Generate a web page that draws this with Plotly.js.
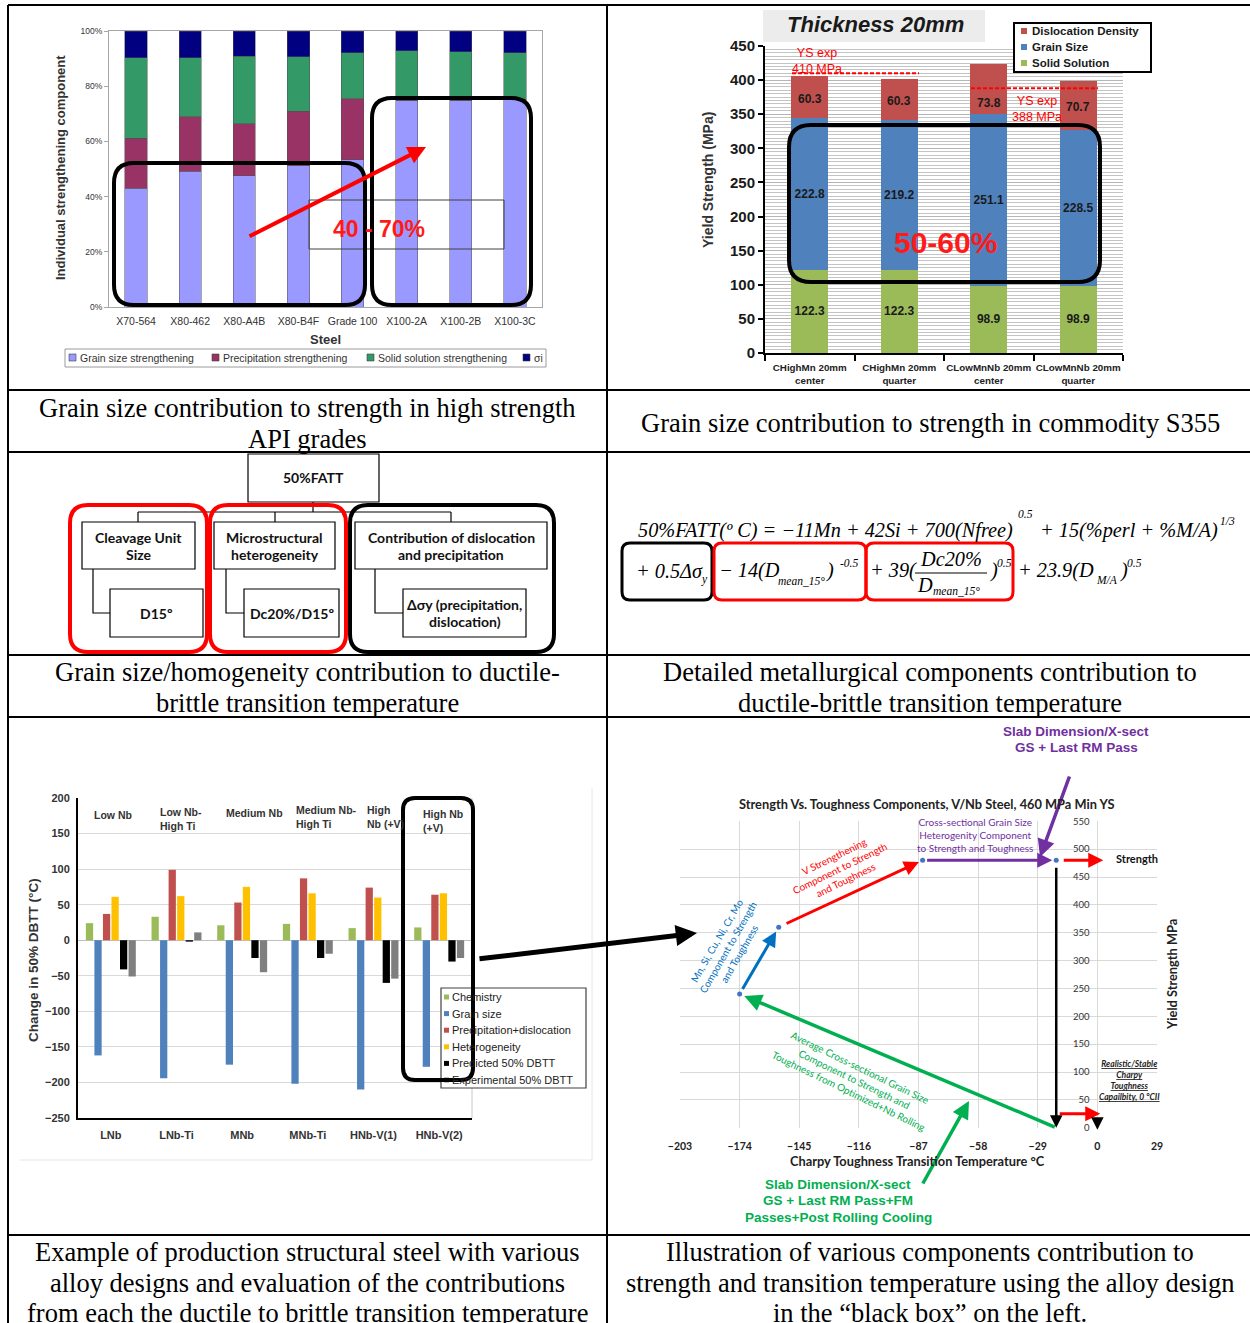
<!DOCTYPE html>
<html>
<head>
<meta charset="utf-8">
<title>Grain size contributions to strength and toughness</title>
<script src="https://cdn.plot.ly/plotly-3.0.1.min.js"></script>
<style>
  html, body { margin: 0; padding: 0; background: #fff; }
  #page { position: relative; width: 1250px; height: 1323px; overflow: hidden; background: #fff; }
  .layer { position: absolute; left: 0; top: 0; width: 1250px; height: 1323px; }
</style>
</head>
<body>
<div id="page">
  <div id="apiChart" class="layer"></div>
  <div id="s355Chart" class="layer"></div>
  <div id="dbttChart" class="layer"></div>
  <div id="toughChart" class="layer"></div>
  <div id="frame" class="layer"></div>
</div>
<script>
// ---------- API grades: share of each strengthening mechanism (%) ----------
const apiSteels = ['X70-564', 'X80-462', 'X80-A4B', 'X80-B4F', 'Grade 100', 'X100-2A', 'X100-2B', 'X100-3C'];
const apiGrainSize = [43.1, 49.2, 47.5, 51.1, 53.4, 74.9, 74.9, 75.2];
const apiPrecipitation = [18.1, 19.8, 18.9, 19.8, 22.1, 0, 0, 0];
const apiSolidSolution = [29.1, 21.3, 24.5, 19.7, 16.6, 17.9, 17.5, 16.9];
const apiSigmaI = [9.7, 9.7, 9.1, 9.4, 7.9, 7.2, 7.6, 7.9];
const apiSeriesNames = ['Grain size strengthening', 'Precipitation strengthening', 'Solid solution strengthening', 'σi'];

// ---------- S355, 20 mm plate: yield strength build-up (MPa) ----------
const s355Samples = ['CHighMn 20mm<br>center', 'CHighMn 20mm<br>quarter', 'CLowMnNb 20mm<br>center', 'CLowMnNb 20mm<br>quarter'];
const s355SolidSolution = [122.3, 122.3, 98.9, 98.9];
const s355GrainSize = [222.8, 219.2, 251.1, 228.5];
const s355Dislocation = [60.3, 60.3, 73.8, 70.7];
const s355SeriesNames = ['Dislocation Density', 'Grain Size', 'Solid Solution'];
const s355YsExp = [410, 388];

// ---------- Change in 50% DBTT by alloy design (°C) ----------
const dbttSteels = ['LNb', 'LNb-Ti', 'MNb', 'MNb-Ti', 'HNb-V(1)', 'HNb-V(2)'];
const dbttFamilies = ['Low Nb', 'Low Nb-<br>High Ti', 'Medium Nb', 'Medium Nb-<br>High Ti', 'High<br>Nb (+V)', 'High Nb<br>(+V)'];
const dbttChemistry = [24, 33, 21, 23, 17, 18];
const dbttGrainSize = [-162, -194, -175, -202, -210, -178];
const dbttPrecipDisloc = [37, 99, 53, 87, 74, 64];
const dbttHeterogeneity = [61, 62, 75, 66, 60, 66];
const dbttPredicted = [-41, -2, -25, -25, -60, -30];
const dbttExperimental = [-51, 11, -45, -19, -54, -25];
const dbttSeriesNames = ['Chemistry', 'Grain size', 'Precipitation+dislocation', 'Heterogeneity', 'Predicted 50% DBTT', 'Experimental 50% DBTT'];

// ---------- V/Nb steel, 460 MPa min YS: strength vs. toughness path ----------
const pathTemp = [-174, -155, -85, -20, -20];   // Charpy transition temperature, °C
const pathYS = [240, 360, 480, 480, 0];          // yield strength, MPa
const tempTicks = [-203, -174, -145, -116, -87, -58, -29, 0, 29];

// ---------- Flowchart and captions ----------
const fattRoot = '50%FATT';
const flowGroups = ['Cleavage Unit<br>Size', 'Microstructural<br>heterogeneity', 'Contribution of dislocation<br>and precipitation'];
const flowMeasures = ['D15º', 'Dc20%/D15º', 'Δσy (precipitation,<br>dislocation)'];
const captions = [
  'Grain size contribution to strength in high strength<br>API grades',
  'Grain size contribution to strength in commodity S355',
  'Grain size/homogeneity contribution to ductile-<br>brittle transition temperature',
  'Detailed metallurgical components contribution to<br>ductile-brittle transition temperature',
  'Example of production structural steel with various<br>alloy designs and evaluation of the contributions<br>from each the ductile to brittle transition temperature',
  'Illustration of various components contribution to<br>strength and transition temperature using the alloy design<br>in the “black box” on the left.'
];

// ================= helpers (page pixels -> paper fractions) =================
const W = 1250, H = 1323;
const fx = p => p / W;
const fy = p => 1 - p / H;
const SANS = 'Liberation Sans, Arial, sans-serif';
const SERIF = 'Liberation Serif, Times New Roman, serif';
const CAL = 'Lato, Open Sans, sans-serif';
const cfg = { staticPlot: true, displayModeBar: false };

function base(extra) {
  return Object.assign({
    width: W, height: H,
    margin: { l: 0, r: 0, t: 0, b: 0, pad: 0 },
    paper_bgcolor: 'rgba(0,0,0,0)', plot_bgcolor: 'rgba(0,0,0,0)',
    showlegend: false, hovermode: false
  }, extra);
}
function note(x, y, text, o) {
  return Object.assign({ xref: 'paper', yref: 'paper', x: fx(x), y: fy(y), text: text,
    showarrow: false, xanchor: 'center', yanchor: 'middle' }, o || {});
}
// one annotation per line so that the line pitch can be set freely
function stackLines(x, yFirst, pitch, text, o) {
  return text.split('<br>').map((t, i) => note(x, yFirst + i * pitch, t, o));
}
function rectShape(x0, y0, x1, y1, line, fill) {
  return { type: 'rect', xref: 'paper', yref: 'paper', x0: fx(x0), x1: fx(x1), y0: fy(y0), y1: fy(y1),
    line: line, fillcolor: fill || 'rgba(0,0,0,0)', layer: 'above' };
}
function lineShape(x0, y0, x1, y1, line) {
  return { type: 'line', xref: 'paper', yref: 'paper', x0: fx(x0), x1: fx(x1), y0: fy(y0), y1: fy(y1),
    line: line, layer: 'above' };
}
function polyShape(pts, line) {
  const d = pts.map((p, i) => (i ? 'L' : 'M') + fx(p[0]).toFixed(5) + ',' + fy(p[1]).toFixed(5)).join(' ');
  return { type: 'path', xref: 'paper', yref: 'paper', path: d, line: line, fillcolor: 'rgba(0,0,0,0)', layer: 'above' };
}
function roundRect(x0, y0, x1, y1, r, line) {
  const P = (x, y) => fx(x).toFixed(5) + ',' + fy(y).toFixed(5);
  const d = 'M' + P(x0 + r, y0) + ' L' + P(x1 - r, y0) + ' Q' + P(x1, y0) + ' ' + P(x1, y0 + r) +
    ' L' + P(x1, y1 - r) + ' Q' + P(x1, y1) + ' ' + P(x1 - r, y1) +
    ' L' + P(x0 + r, y1) + ' Q' + P(x0, y1) + ' ' + P(x0, y1 - r) +
    ' L' + P(x0, y0 + r) + ' Q' + P(x0, y0) + ' ' + P(x0 + r, y0) + ' Z';
  return { type: 'path', xref: 'paper', yref: 'paper', path: d, line: line, fillcolor: 'rgba(0,0,0,0)', layer: 'above' };
}
function pxArrow(tx, ty, hx, hy, color, width, size) {
  return { xref: 'paper', yref: 'paper', x: fx(hx), y: fy(hy), ax: tx - hx, ay: ty - hy,
    axref: 'pixel', ayref: 'pixel', text: '', showarrow: true, arrowhead: 2,
    arrowsize: size || 1, arrowwidth: width, arrowcolor: color };
}

// ================= API grades stacked percentage chart =================
(function () {
  const colors = ['#9999ff', '#993366', '#339966', '#000080'];
  const values = [apiGrainSize, apiPrecipitation, apiSolidSolution, apiSigmaI];
  const traces = values.map((v, i) => ({
    type: 'bar', x: apiSteels, y: v, name: apiSeriesNames[i],
    marker: { color: colors[i], line: { color: '#505050', width: 0.5 } }
  }));
  const shapes = [];
  const notes = [];
  // legend strip under the chart
  shapes.push(rectShape(65, 349, 546, 367, { color: '#9a9a9a', width: 1 }, '#fff'));
  const swatchX = [69, 212, 367, 523];
  apiSeriesNames.forEach((n, i) => {
    shapes.push(rectShape(swatchX[i], 354, swatchX[i] + 7, 361, { color: '#404040', width: 0.6 }, colors[i]));
    notes.push(note(swatchX[i] + 8.5, 358, n, { xanchor: 'left', font: { family: SANS, size: 10.5, color: '#333' } }));
  });
  // highlight frames
  shapes.push(rectShape(309, 200, 504, 249, { color: '#404040', width: 1 }));
  shapes.push(roundRect(114, 163, 365, 305, 20, { color: '#000', width: 4 }));
  shapes.push(roundRect(372, 98, 531, 305, 20, { color: '#000', width: 4 }));
  notes.push(note(379, 229, '<b>40 - 70%</b>', { font: { family: SANS, size: 23, color: '#ff1a1a' } }));
  notes.push(pxArrow(248, 237, 426, 147, '#ff0000', 4, 0.9));
  notes.push(note(60, 168, '<b>Individual strengthening component</b>', { textangle: -90, font: { family: SANS, size: 13, color: '#333' } }));
  notes.push(note(326, 339, '<b>Steel</b>', { font: { family: SANS, size: 13, color: '#333' } }));

  const layout = base({
    barmode: 'stack', bargap: 0.59,
    xaxis: { domain: [fx(109), fx(542)], showline: true, linecolor: '#a6a6a6', linewidth: 1, mirror: true,
      ticks: 'outside', ticklen: 4, tickcolor: 'rgba(0,0,0,0)', tickangle: 0,
      tickfont: { family: SANS, size: 10.5, color: '#333' } },
    yaxis: { domain: [fy(307), fy(31)], range: [0, 100], dtick: 20, ticksuffix: '%', showgrid: false, zeroline: false,
      showline: true, linecolor: '#a6a6a6', mirror: true, ticks: 'outside', ticklen: 4, tickcolor: '#a6a6a6',
      tickfont: { family: SANS, size: 8.5, color: '#333' } },
    shapes: shapes, annotations: notes
  });
  Plotly.newPlot('apiChart', traces, layout, cfg);
})();

// ================= S355 yield strength build-up =================
(function () {
  const colors = { dis: '#c0504d', grain: '#4f81bd', solid: '#9bbb59' };
  const lbl = { family: SANS, size: 12, color: '#1a1a1a', weight: 'bold' };
  const mk = (y, name, c, withText) => Object.assign({
    type: 'bar', x: s355Samples, y: y, name: name, marker: { color: c }
  }, withText ? { texttemplate: '%{y:.1f}', textposition: 'inside', insidetextanchor: 'middle', textangle: 0, textfont: lbl }
              : { textposition: 'none' });
  const traces = [
    mk(s355SolidSolution, s355SeriesNames[2], colors.solid, true),
    mk(s355GrainSize, s355SeriesNames[1], colors.grain, true),
    mk(s355Dislocation, s355SeriesNames[0], colors.dis, false)
  ];
  const red = '#ff0000';
  const shapes = [
    rectShape(763, 10, 985, 42, { width: 0 }, '#ececec'),
    { type: 'line', xref: 'paper', yref: 'y', x0: fx(792), x1: fx(919), y0: s355YsExp[0], y1: s355YsExp[0],
      line: { color: red, width: 2, dash: '4px,2px' }, layer: 'above' },
    { type: 'line', xref: 'paper', yref: 'y', x0: fx(971), x1: fx(1098), y0: s355YsExp[1], y1: s355YsExp[1],
      line: { color: red, width: 2, dash: '4px,2px' }, layer: 'above' },
    roundRect(789, 125, 1100, 282, 22, { color: '#000', width: 4 }),
    rectShape(1014, 23, 1151, 72, { color: '#000', width: 2 }, '#fff')
  ];
  // dislocation labels: centred in each top segment, the third one nudged below the 388 MPa line
  const labelNudge = [-2, -2, -14, -1];
  const notes = s355Dislocation.map((v, i) => ({
    xref: 'x', yref: 'y', x: s355Samples[i], y: s355SolidSolution[i] + s355GrainSize[i] + v / 2, yshift: labelNudge[i],
    text: v.toFixed(1), showarrow: false, xanchor: 'center', yanchor: 'middle', font: lbl
  }));
  notes.push(
    note(875, 25, '<b><i>Thickness 20mm</i></b>', { font: { family: SANS, size: 22, color: '#1a1a1a' } }),
    { xref: 'paper', yref: 'y', x: fx(817), y: s355YsExp[0], xanchor: 'center', yanchor: 'bottom', yshift: -5, showarrow: false,
      text: 'YS exp<br>' + s355YsExp[0] + ' MPa', font: { family: SANS, size: 12.5, color: red } },
    { xref: 'paper', yref: 'y', x: fx(1037), y: s355YsExp[1], xanchor: 'center', yanchor: 'top', yshift: -4, showarrow: false,
      text: 'YS exp<br>' + s355YsExp[1] + ' MPa', font: { family: SANS, size: 12.5, color: red } },
    note(945, 243, '<b>50-60%</b>', { font: { family: SANS, size: 30, color: '#ff1a1a' } }),
    note(708, 180, '<b>Yield Strength (MPa)</b>', { textangle: -90, font: { family: SANS, size: 14, color: '#333' } })
  );
  const legendColors = [colors.dis, colors.grain, colors.solid];
  s355SeriesNames.forEach((n, i) => {
    const cy = 31 + i * 16;
    shapes.push(rectShape(1021, cy - 3, 1027, cy + 3, { width: 0 }, legendColors[i]));
    notes.push(note(1030, cy, '<b>' + n + '</b>', { xanchor: 'left', font: { family: SANS, size: 11.5, color: '#1a1a1a' } }));
  });
  const layout = base({
    barmode: 'stack', bargap: 0.59, uniformtext: { mode: false },
    xaxis: { domain: [fx(765), fx(1123)], showline: true, linecolor: '#000', linewidth: 2, tickangle: 0,
      tickson: 'boundaries', ticks: 'outside', ticklen: 6, tickwidth: 2, tickcolor: '#000', ticklabelstandoff: 4,
      tickfont: { family: SANS, size: 9.8, color: '#222', weight: 'bold' } },
    yaxis: { domain: [fy(353), fy(46)], range: [0, 450], dtick: 50, showline: true, linecolor: '#000', linewidth: 2,
      ticks: 'outside', ticklen: 5, tickwidth: 2, tickcolor: '#000', zeroline: false,
      gridcolor: '#b5b5b5', gridwidth: 1,
      minor: { dtick: 5, showgrid: true, gridcolor: '#c4c4c4', gridwidth: 1 },
      tickfont: { family: SANS, size: 15, color: '#1a1a1a', weight: 'bold' } },
    shapes: shapes, annotations: notes
  });
  Plotly.newPlot('s355Chart', traces, layout, cfg);
})();

// ================= DBTT contributions by alloy design =================
(function () {
  const colors = ['#9bbb59', '#4f81bd', '#c0504d', '#ffc000', '#000000', '#7f7f7f'];
  const values = [dbttChemistry, dbttGrainSize, dbttPrecipDisloc, dbttHeterogeneity, dbttPredicted, dbttExperimental];
  const traces = values.map((v, i) => ({
    type: 'bar', x: dbttSteels, y: v, name: dbttSeriesNames[i], marker: { color: colors[i] }
  }));
  const familyPos = [[92, 815], [158, 819], [224, 813], [294, 817], [365, 817], [421, 821]];
  const notes = dbttFamilies.map((t, i) => note(familyPos[i][0], familyPos[i][1], t,
    { xanchor: 'left', align: 'left', font: { family: SANS, size: 10.5, color: '#333', weight: 'bold' } }));
  notes.push(note(33, 960, '<b>Change in 50% DBTT (°C)</b>', { textangle: -90, font: { family: SANS, size: 13.5, color: '#333' } }));
  const shapes = [
    // faint chart-area edge
    polyShape([[20, 1160], [592, 1160], [592, 788]], { color: '#e6e6e6', width: 1 }),
    lineShape(472, 798, 472, 1118, { color: '#c8c8c8', width: 1 }),
    rectShape(441, 988, 586, 1088, { color: '#404040', width: 1.2 }, '#fff')
  ];
  dbttSeriesNames.forEach((n, i) => {
    const cy = 997 + i * 16.6;
    shapes.push(rectShape(444, cy - 2.5, 449, cy + 2.5, { width: 0 }, colors[i]));
    notes.push(note(450, cy, n, { xanchor: 'left', font: { family: SANS, size: 11, color: '#222' } }));
  });
  shapes.push(roundRect(403, 798, 473, 1080, 12, { color: '#000', width: 4 }));
  const layout = base({
    barmode: 'group', bargap: 0.22, bargroupgap: 0.15,
    xaxis: { domain: [fx(78), fx(472)], showline: true, linecolor: '#000', linewidth: 2, ticks: 'outside', ticklen: 6,
      tickcolor: 'rgba(0,0,0,0)', tickangle: 0, tickfont: { family: SANS, size: 11, color: '#333', weight: 'bold' } },
    yaxis: { domain: [fy(1118), fy(798)], range: [-250, 200], dtick: 50, showline: true, linecolor: '#000', linewidth: 2,
      gridcolor: '#d9d9d9', zeroline: true, zerolinecolor: '#bfbfbf', zerolinewidth: 1,
      ticks: 'outside', ticklen: 4, tickcolor: 'rgba(0,0,0,0)',
      tickfont: { family: SANS, size: 11, color: '#333', weight: 'bold' } },
    shapes: shapes, annotations: notes
  });
  Plotly.newPlot('dbttChart', traces, layout, cfg);
})();

// ================= Strength vs. toughness component path =================
(function () {
  const xDom = [fx(680), fx(1157)];
  const xr = [-203, 29];
  const zeroPos = xDom[0] + (0 - xr[0]) / (xr[1] - xr[0]) * (xDom[1] - xDom[0]);
  const dots = {
    type: 'scatter', mode: 'markers', x: pathTemp.slice(0, 4), y: pathYS.slice(0, 4),
    marker: { color: '#4472c4', size: 5 }
  };
  const seg = (t, h, color, width, size, startOff, endOff) => ({
    xref: 'x', yref: 'y', axref: 'x', ayref: 'y', x: pathTemp[h], y: pathYS[h], ax: pathTemp[t], ay: pathYS[t],
    text: '', showarrow: true, arrowhead: 2, arrowsize: size, arrowwidth: width, arrowcolor: color,
    standoff: endOff, startstandoff: startOff
  });
  const green = '#00b050', blue = '#0070c0', red = '#ff0000', purple = '#7030a0';
  const small = c => ({ family: CAL, size: 10, color: c });
  const callout = c => ({ font: { family: SANS, size: 13.5, color: c, weight: 'bold' } });
  const notes = [
    seg(4, 0, green, 3.5, 1, 0, 5),
    seg(0, 1, blue, 3, 1, 4, 5),
    seg(1, 2, red, 3, 1, 7, 4),
    seg(2, 3, purple, 3, 1, 3, 4),
    seg(3, 4, '#000', 2.5, 1, 6, 0),
    // output arrows to the strength / toughness readouts
    { xref: 'x', yref: 'y', x: pathTemp[3], y: pathYS[3], xshift: 47, ax: -41, ay: 0, axref: 'pixel', ayref: 'pixel',
      text: '', showarrow: true, arrowhead: 2, arrowsize: 1, arrowwidth: 3, arrowcolor: red },
    { xref: 'x', yref: 'y', x: pathTemp[4], y: pathYS[4], xshift: 44, yshift: 14, ax: -42, ay: 0, axref: 'pixel', ayref: 'pixel',
      text: '', showarrow: true, arrowhead: 2, arrowsize: 1, arrowwidth: 3, arrowcolor: red },
    { xref: 'x', yref: 'y', x: 0, y: 0, yshift: -2, ax: 0, ay: -10, axref: 'pixel', ayref: 'pixel',
      text: '', showarrow: true, arrowhead: 2, arrowsize: 1, arrowwidth: 2.5, arrowcolor: '#000' },
    // call-outs from outside the plot
    pxArrow(1070, 775, 1040, 857, purple, 3.5, 1),
    pxArrow(922, 1185, 969, 1101, green, 3.5, 1),
    ...stackLines(1076, 731, 16, 'Slab Dimension/X-sect<br>GS + Last RM Pass', callout(purple)),
    ...stackLines(838, 1184, 16.5, 'Slab Dimension/X-sect<br>GS + Last RM Pass+FM<br>Passes+Post Rolling Cooling', callout(green)),
    note(926, 804, '<b>Strength Vs. Toughness Components, V/Nb Steel, 460 MPa Min YS</b>', { font: { family: CAL, size: 12.8, color: '#222' } }),
    note(975, 835, 'Cross-sectional Grain Size<br>Heterogenity Component<br>to Strength and Toughness', { font: small(purple) }),
    note(840, 868, 'V Strengthening<br>Component to Strength<br>and Toughness', { textangle: -26, font: small(red) }),
    note(728, 947, 'Mn, Si, Cu, Ni, Cr, Mo<br>Component to Strength<br>and Toughness', { textangle: -60, font: small(blue) }),
    note(854, 1079, 'Average Cross-sectional Grain Size<br>Component to Strength and<br>Toughness from Optimized+Nb Rolling', { textangle: 26, font: small(green) }),
    note(1137, 859, '<b>Strength</b>', { font: { family: CAL, size: 11, color: '#111' } }),
    note(1129, 1080, '<b><i><u>Realistic/Stable</u><br><u>Charpy</u><br><u>Toughness</u><br><u>Capailbity, 0 °CII</u></i></b>', { font: { family: CAL, size: 8.5, color: '#222' } }),
    note(1172, 975, '<b>Yield Strength MPa</b>', { textangle: -90, font: { family: CAL, size: 12.8, color: '#222' } }),
    note(917, 1161, '<b>Charpy Toughness Transition Temperature °C</b>', { font: { family: CAL, size: 12.8, color: '#222' } })
  ];
  const layout = base({
    xaxis: { domain: xDom, range: [xr[0] - 0.01, xr[1] + 0.01], tickvals: tempTicks, showline: false, zeroline: false,
      gridcolor: '#d9d9d9', ticks: 'outside', ticklen: 8, tickcolor: 'rgba(0,0,0,0)',
      tickfont: { family: CAL, size: 10.5, color: '#222', weight: 'bold' } },
    yaxis: { domain: [fy(1128), fy(821)], range: [-0.5, 550.5], dtick: 50, anchor: 'free', position: zeroPos,
      showline: false, zeroline: false, gridcolor: '#d9d9d9', ticks: 'outside', ticklen: 6, tickcolor: 'rgba(0,0,0,0)',
      tickfont: { family: CAL, size: 9.5, color: '#333' } },
    annotations: notes
  });
  Plotly.newPlot('toughChart', [dots], layout, cfg);
})();

// ================= table frame, captions, flowchart and equation =================
(function () {
  const shapes = [];
  const notes = [];
  const rule = { color: '#000', width: 2 };
  [5, 390, 452, 655, 717, 1235].forEach(y => shapes.push(lineShape(8, y, 1250, y, rule)));
  [8, 607].forEach(x => shapes.push(lineShape(x, 5, x, 1323, rule)));

  const capFont = { family: SERIF, size: 26.5, color: '#000' };
  const capPos = [[307, 408], [930, 423], [307, 672], [930, 672], [307, 1252], [930, 1252]];
  captions.forEach((c, i) => notes.push(...stackLines(capPos[i][0], capPos[i][1], 30.5, c, { font: capFont })));

  // flowchart
  const thin = { color: '#000', width: 1.2 };
  const flowFont = { family: CAL, size: 14, color: '#111', weight: 'bold' };
  shapes.push(rectShape(248, 454, 379, 502, thin, '#fff'));
  notes.push(note(313, 478, fattRoot, { font: flowFont }));
  shapes.push(lineShape(313, 502, 313, 512, thin));
  shapes.push(lineShape(138, 512, 451, 512, thin));
  const groupBox = [[82, 195], [214, 335], [355, 547]];
  const groupTop = [138, 275, 451];
  const measureBox = [[110, 203], [244, 339], [403, 526]];
  const elbowX = [93, 226, 375];
  groupBox.forEach((b, i) => {
    shapes.push(lineShape(groupTop[i], 512, groupTop[i], 522, thin));
    shapes.push(rectShape(b[0], 522, b[1], 569, thin, '#fff'));
    notes.push(...stackLines((b[0] + b[1]) / 2, 537, 17, flowGroups[i], { font: flowFont }));
    shapes.push(polyShape([[elbowX[i], 569], [elbowX[i], 613], [measureBox[i][0], 613]], thin));
    shapes.push(rectShape(measureBox[i][0], 589, measureBox[i][1], 637, thin, '#fff'));
    const lines = flowMeasures[i].split('<br>').length;
    notes.push(...stackLines((measureBox[i][0] + measureBox[i][1]) / 2, 613 - (lines - 1) * 8.5, 17, flowMeasures[i], { font: flowFont }));
  });
  shapes.push(roundRect(70, 505, 207, 652, 18, { color: '#ff0000', width: 4 }));
  shapes.push(roundRect(210, 505, 346, 652, 18, { color: '#ff0000', width: 4 }));
  shapes.push(roundRect(350, 505, 554, 652, 18, { color: '#000', width: 4 }));

  // 50% FATT regression
  const eq = { family: SERIF, size: 20.3, color: '#000' };
  const eqSmall = { family: SERIF, size: 11.5, color: '#000' };
  const nb = '\u00a0';
  notes.push(note(636, 530, '<i>50%FATT(º' + nb + 'C) = −11Mn + 42Si + 700(Nfree)</i>', { xanchor: 'left', font: eq }));
  notes.push(note(1025, 514, '<i>0.5</i>', { font: eqSmall }));
  notes.push(note(1038, 530, '<i>+ 15(%perl + %M/A)</i>', { xanchor: 'left', font: eq }));
  notes.push(note(1227, 521, '<i>1/3</i>', { font: eqSmall }));
  notes.push(note(634, 571, '<i>+' + nb + '0.5Δσ</i>', { xanchor: 'left', font: eq }));
  notes.push(note(704, 580, '<i>y</i>', { font: eqSmall }));
  notes.push(note(717, 571, '<i>−' + nb + '14(D</i>', { xanchor: 'left', font: eq }));
  notes.push(note(802, 581, '<i>mean_15°</i>', { font: eqSmall }));
  notes.push(note(824, 571, '<i>)</i>', { xanchor: 'left', font: eq }));
  notes.push(note(849, 563, '<i>-0.5</i>', { font: eqSmall }));
  notes.push(note(868, 571, '<i>+' + nb + '39(</i>', { xanchor: 'left', font: eq }));
  notes.push(note(951, 559, '<i>Dc20%</i>', { font: eq }));
  shapes.push(lineShape(915, 573, 987, 573, { color: '#000', width: 1 }));
  notes.push(note(925, 585, '<i>D</i>', { font: eq }));
  notes.push(note(956, 591, '<i>mean_15°</i>', { font: eqSmall }));
  notes.push(note(988, 571, '<i>)</i>', { xanchor: 'left', font: eq }));
  notes.push(note(1004, 563, '<i>0.5</i>', { font: eqSmall }));
  notes.push(note(1016, 571, '<i>+' + nb + '23.9(D</i>', { xanchor: 'left', font: eq }));
  notes.push(note(1107, 580, '<i>M/A</i>', { font: eqSmall }));
  notes.push(note(1118, 571, '<i>)</i>', { xanchor: 'left', font: eq }));
  notes.push(note(1134, 563, '<i>0.5</i>', { font: eqSmall }));
  shapes.push(roundRect(622, 543, 712, 600, 8, { color: '#000', width: 3 }));
  shapes.push(roundRect(714, 543, 866, 600, 8, { color: '#ff0000', width: 3 }));
  shapes.push(roundRect(866, 543, 1013, 600, 8, { color: '#ff0000', width: 3 }));

  // link from the highlighted alloy to the component path
  notes.push(pxArrow(478, 959, 697, 933, '#000', 5, 0.85));

  Plotly.newPlot('frame', [], base({
    xaxis: { visible: false, range: [0, 1] }, yaxis: { visible: false, range: [0, 1] },
    shapes: shapes, annotations: notes
  }), cfg);
})();
</script>
</body>
</html>
